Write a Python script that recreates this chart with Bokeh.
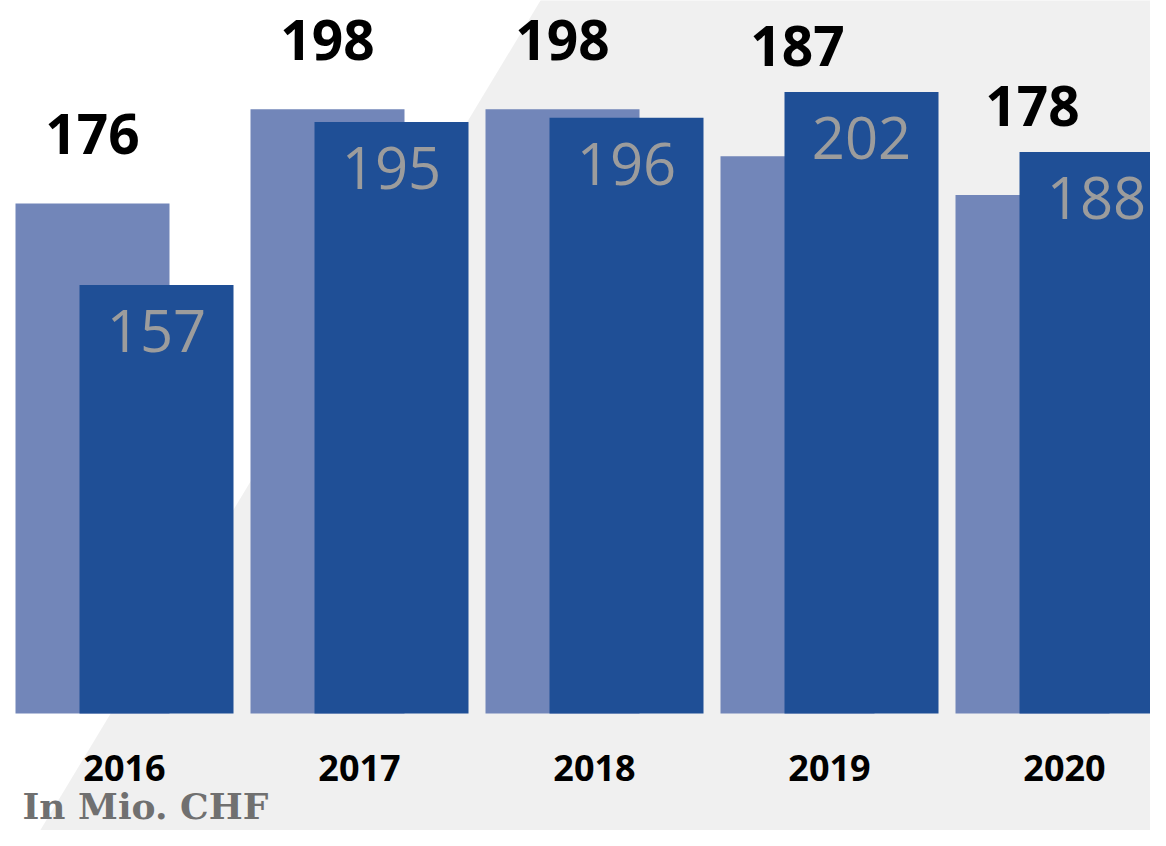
import numpy as np
from bokeh.plotting import figure
from bokeh.models import ColumnDataSource
from bokeh.core.properties import value
from bokeh.embed import file_html
from bokeh.resources import INLINE

# ---- data ----
years = ["2016", "2017", "2018", "2019", "2020"]
prior = [176, 198, 198, 187, 178]      # light (back) bars
current = [157, 195, 196, 202, 188]    # dark (front) bars
unit_label = "In Mio. CHF"

# ---- layout constants ----
W, H = 1150, 830
PX_PER_GROUP = 235.0
PX_PER_UNIT = 4.286
BASE = 57.0          # value at bar baseline
G0_PX = 124          # first group centre, px from frame left
BASE_PX = 713        # baseline, px from frame top

x_start = -G0_PX / PX_PER_GROUP
x_end = x_start + W / PX_PER_GROUP
y_end = BASE + BASE_PX / PX_PER_UNIT
y_start = y_end - H / PX_PER_UNIT


def px_x(px):
    return x_start + px / PX_PER_GROUP


def px_y(py):
    return y_end - py / PX_PER_UNIT


p = figure(width=W, height=H, x_range=(x_start, x_end), y_range=(y_start, y_end),
           output_backend="svg", toolbar_location=None, min_border=0,
           background_fill_color="white", border_fill_color="white")
p.axis.visible = False
p.grid.visible = False
p.outline_line_color = None

# background diagonal grey panel: edge from (540, 0) to (30, 846) in px
slope = (30 - 540) / 846
p.patch(x=[px_x(540 + slope * -20), px_x(1400), px_x(1400), px_x(540 + slope * (H + 20))],
        y=[px_y(-20), px_y(-20), px_y(H + 20), px_y(H + 20)],
        fill_color="#f0f0f0", line_color=None)

idx = np.arange(len(years))
off = 32 / PX_PER_GROUP
bw = 154 / PX_PER_GROUP

src = ColumnDataSource(dict(
    x=idx, xl=idx - off, xd=idx + off,
    prior=prior, current=current, years=years,
    prior_txt=[str(v) for v in prior], cur_txt=[str(v) for v in current],
    label_y=np.maximum(np.array(prior) + 47 / PX_PER_UNIT,
                       np.array(current) + 24 / PX_PER_UNIT),
))

p.vbar(x="xl", top="prior", bottom=BASE, width=bw, source=src,
       fill_color="#7286b9", line_color=None)
p.vbar(x="xd", top="current", bottom=BASE, width=bw, source=src,
       fill_color="#1f4f96", line_color=None)

p.text(x="xl", y="label_y", text="prior_txt", source=src, y_offset=-22,
       text_font=value("Open Sans"), text_font_size="55px", text_font_style="bold",
       text_color="#000000", text_align="center", text_baseline="alphabetic")

p.text(x="xd", y="current", text="cur_txt", source=src, y_offset=46,
       text_font=value("Open Sans"), text_font_size="58px",
       text_color="#9c9c9c", text_align="center", text_baseline="alphabetic")

p.text(x="x", y=BASE, text="years", source=src, y_offset=54,
       text_font=value("Open Sans"), text_font_size="36px", text_font_style="bold",
       text_color="#000000", text_align="center", text_baseline="alphabetic")

p.text(x=[px_x(22)], y=[px_y(820)], text=[unit_label], y_offset=-15,
       text_font=value("DejaVu Serif"), text_font_size="36px", text_font_style="bold",
       text_color="#707070", text_align="left", text_baseline="alphabetic")

open("out.html", "w").write(file_html(p, INLINE))
